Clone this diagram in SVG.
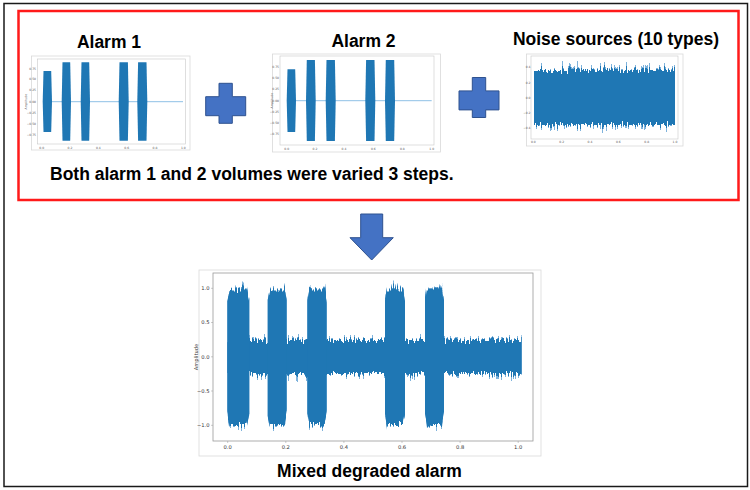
<svg xmlns="http://www.w3.org/2000/svg" width="750" height="490" viewBox="0 0 750 490">
<style>
.title{font-family:"Liberation Sans",Arial,sans-serif;font-weight:bold;font-size:17.5px;fill:#000}
.tk{font-family:"DejaVu Sans","Liberation Sans",sans-serif;font-size:3px;fill:#555}
.tkb{font-family:"DejaVu Sans","Liberation Sans",sans-serif;font-size:5.2px;fill:#333}
.sig{fill:#1f77b4}
.sigl{fill:#7fb3dc}
.fig{fill:#fff;stroke:#d9d9d9;stroke-width:0.8}
.ax{fill:none;stroke:#c8c8c8;stroke-width:0.6}
.axb{fill:none;stroke:#9a9a9a;stroke-width:0.8}
.tick{stroke:#999;stroke-width:0.5}
.blue{fill:#4472c4;stroke:#2f528f;stroke-width:1}
</style>
<defs>
<filter id="jagA" x="-3%" y="-15%" width="106%" height="130%" color-interpolation-filters="sRGB">
  <feTurbulence type="fractalNoise" baseFrequency="0.75 0.03" numOctaves="2" seed="7" result="n"/>
  <feColorMatrix in="n" type="matrix" values="1 0 0 0 0  0 0 0 0 0.5  0 0 0 0 0  0 0 0 0 1" result="m"/>
  <feDisplacementMap in="SourceGraphic" in2="m" scale="14" xChannelSelector="G" yChannelSelector="R"/>
</filter>
<filter id="jagB" x="-3%" y="-15%" width="106%" height="130%" color-interpolation-filters="sRGB">
  <feTurbulence type="fractalNoise" baseFrequency="0.75 0.03" numOctaves="2" seed="7" result="n"/>
  <feColorMatrix in="n" type="matrix" values="1 0 0 0 0  0 0 0 0 0.5  0 0 0 0 0  0 0 0 0 1" result="m"/>
  <feDisplacementMap in="SourceGraphic" in2="m" scale="26" xChannelSelector="G" yChannelSelector="R"/>
</filter>
<filter id="jagN" x="-3%" y="-25%" width="106%" height="150%" color-interpolation-filters="sRGB">
  <feTurbulence type="fractalNoise" baseFrequency="0.8 0.04" numOctaves="2" seed="3" result="n"/>
  <feColorMatrix in="n" type="matrix" values="1 0 0 0 0  0 0 0 0 0.5  0 0 0 0 0  0 0 0 0 1" result="m"/>
  <feDisplacementMap in="SourceGraphic" in2="m" scale="16" xChannelSelector="G" yChannelSelector="R"/>
</filter>
<filter id="jagNL" x="-3%" y="-25%" width="106%" height="150%" color-interpolation-filters="sRGB">
  <feTurbulence type="fractalNoise" baseFrequency="0.8 0.04" numOctaves="2" seed="3" result="n"/>
  <feColorMatrix in="n" type="matrix" values="1 0 0 0 0  0 0 0 0 0.5  0 0 0 0 0  0 0 0 0 1" result="m"/>
  <feDisplacementMap in="SourceGraphic" in2="m" scale="30" xChannelSelector="G" yChannelSelector="R"/>
</filter>
<g id="mixshape">
  <rect x="227.5" y="340" width="294.2" height="34"/>
  <polygon points="227.3,302 229.5,288.5 246.5,288.5 249.3,300 249.3,413.5 246.5,425 229.5,425 227.3,411"/>
  <polygon points="267.7,300 269.7,288.5 284.7,288.5 286.7,300 286.7,413.5 284.7,425 269.7,425 267.7,413.5"/>
  <polygon points="307.3,300 309.3,288.5 324.7,288.5 326.7,300 326.7,413.5 324.7,425 309.3,425 307.3,413.5"/>
  <polygon points="385,300 387,288.5 403,288.5 405,300 405,413.5 403,425 387,425 385,413.5"/>
  <polygon points="425,300 427,288.5 442,288.5 444,300 444,413.5 442,425 427,425 425,413.5"/>
</g>
</defs>

<rect x="0" y="0" width="750" height="490" fill="#fff"/>
<rect id="outer" x="4" y="3.5" width="743.5" height="483" fill="none" stroke="#1a1a1a" stroke-width="1.5"/>
<rect id="inputs-box" x="18.5" y="11" width="720" height="189" fill="none" stroke="#ff1a1a" stroke-width="2.5"/>

<g id="alarm1">
  <text class="title" x="109" y="48" text-anchor="middle">Alarm 1</text>
  <rect class="fig" x="31.5" y="56" width="158.5" height="94"/>
  <rect class="ax" x="37.5" y="59" width="148" height="85"/>
  <line x1="52" y1="101.7" x2="183" y2="101.7" stroke="#8ec1e6" stroke-width="1"/>
  <polygon class="sig" points="43.5,71 51.2,71 52,101.7 51.2,132 43.5,132 42.7,101.7"/>
  <polygon class="sig" points="62.5,62.3 70.2,62.3 71,101.7 70.2,140.7 62.5,140.7 61.7,101.7"/>
  <polygon class="sig" points="81.5,62.3 89.2,62.3 90,101.7 89.2,140.7 81.5,140.7 80.7,101.7"/>
  <polygon class="sig" points="119.5,62.3 127.9,62.3 128.7,101.7 127.9,140.7 119.5,140.7 118.7,101.7"/>
  <polygon class="sig" points="138.1,62.3 146.5,62.3 147.3,101.7 146.5,140.7 138.1,140.7 137.3,101.7"/>
  <g class="tk" text-anchor="middle">
    <text x="41.7" y="148.5">0.0</text><text x="70" y="148.5">0.2</text><text x="98.3" y="148.5">0.4</text>
    <text x="126.7" y="148.5">0.6</text><text x="155" y="148.5">0.8</text><text x="183.3" y="148.5">1.0</text>
  </g>
  <g class="tk" text-anchor="end">
    <text x="36" y="70">0.75</text><text x="36" y="80.3">0.50</text><text x="36" y="91">0.25</text>
    <text x="36" y="102.7">0.00</text><text x="36" y="113.7">−0.25</text><text x="36" y="125">−0.50</text><text x="36" y="136">−0.75</text>
  </g>
  <text class="tk" transform="translate(27 101.7) rotate(-90)" text-anchor="middle">Amplitude</text>
</g>

<g id="plus1">
  <polygon class="blue" points="219,83.3 232.3,83.3 232.3,96.7 245.7,96.7 245.7,115.7 232.3,115.7 232.3,123.3 219,123.3 219,115.7 205.7,115.7 205.7,96.7 219,96.7"/>
</g>

<g id="alarm2">
  <text class="title" x="363.5" y="46.7" text-anchor="middle">Alarm 2</text>
  <rect class="fig" x="272.5" y="54" width="168" height="98"/>
  <rect class="ax" x="280" y="56" width="154" height="89"/>
  <line x1="296" y1="100.7" x2="431.7" y2="100.7" stroke="#8ec1e6" stroke-width="1"/>
  <polygon class="sig" points="287.5,69.3 295.2,69.3 296,100.7 295.2,132 287.5,132 286.7,100.7"/>
  <polygon class="sig" points="306.8,60 314.9,60 315.7,100.7 314.9,141 306.8,141 306,100.7"/>
  <polygon class="sig" points="326.5,60 334.9,60 335.7,100.7 334.9,141 326.5,141 325.7,100.7"/>
  <polygon class="sig" points="366.1,60 374.5,60 375.3,100.7 374.5,141 366.1,141 365.3,100.7"/>
  <polygon class="sig" points="385.8,60 394.2,60 395,100.7 394.2,141 385.8,141 385,100.7"/>
  <g class="tk" text-anchor="middle">
    <text x="286.7" y="150">0.0</text><text x="315" y="150">0.2</text><text x="344" y="150">0.4</text>
    <text x="373.3" y="150">0.6</text><text x="402.3" y="150">0.8</text><text x="431.7" y="150">1.0</text>
  </g>
  <g class="tk" text-anchor="end">
    <text x="279" y="67.7">0.75</text><text x="279" y="78.7">0.50</text><text x="279" y="90">0.25</text>
    <text x="279" y="101.7">0.00</text><text x="279" y="112.7">−0.25</text><text x="279" y="124.3">−0.50</text><text x="279" y="135.3">−0.75</text>
  </g>
  <text class="tk" transform="translate(272.5 100.7) rotate(-90)" text-anchor="middle">Amplitude</text>
</g>

<g id="plus2">
  <polygon class="blue" points="472.3,77.5 485.7,77.5 485.7,90.9 499,90.9 499,109.9 485.7,109.9 485.7,117.5 472.3,117.5 472.3,109.9 459,109.9 459,90.9 472.3,90.9"/>
</g>

<g id="noise">
  <text class="title" x="616" y="45" text-anchor="middle">Noise sources (10 types)</text>
  <rect class="fig" x="526.5" y="54" width="156.5" height="92"/>
  <rect class="ax" x="531" y="56" width="147" height="83"/>
  <rect class="sigl" x="534" y="70" width="141" height="55" filter="url(#jagNL)"/>
  <rect class="sig" x="534" y="70" width="141" height="55" filter="url(#jagN)"/>
  <g class="tk" text-anchor="middle">
    <text x="533.3" y="143">0.0</text><text x="561.7" y="143">0.2</text><text x="590" y="143">0.4</text>
    <text x="618.3" y="143">0.6</text><text x="646.7" y="143">0.8</text><text x="675" y="143">1.0</text>
  </g>
  <g class="tk" text-anchor="end">
    <text x="530.5" y="68.3">0.4</text><text x="530.5" y="83.7">0.2</text><text x="530.5" y="99.3">0.0</text>
    <text x="530.5" y="114.3">−0.2</text><text x="530.5" y="129.3">−0.4</text>
  </g>
</g>

<g id="arrow-down">
  <polygon class="blue" points="360.7,214 382.7,214 382.7,237.7 393.3,237.7 371.7,260 350,237.7 360.7,237.7"/>
</g>

<g id="mixed">
  <rect class="fig" x="199" y="270" width="342" height="186"/>
  <rect class="axb" x="213" y="273" width="320" height="168"/>
  <use href="#mixshape" class="sigl" filter="url(#jagB)"/>
  <use href="#mixshape" class="sig" filter="url(#jagA)"/>
  <g class="tick">
    <line x1="211" y1="288.3" x2="213" y2="288.3"/><line x1="211" y1="322.5" x2="213" y2="322.5"/>
    <line x1="211" y1="356.8" x2="213" y2="356.8"/><line x1="211" y1="391" x2="213" y2="391"/>
    <line x1="211" y1="425.3" x2="213" y2="425.3"/>
    <line x1="227.7" y1="441" x2="227.7" y2="443"/><line x1="285.8" y1="441" x2="285.8" y2="443"/>
    <line x1="343.9" y1="441" x2="343.9" y2="443"/><line x1="402" y1="441" x2="402" y2="443"/>
    <line x1="460.1" y1="441" x2="460.1" y2="443"/><line x1="518.2" y1="441" x2="518.2" y2="443"/>
  </g>
  <g class="tkb" text-anchor="end">
    <text x="209.5" y="290.2">1.0</text><text x="209.5" y="324.4">0.5</text><text x="209.5" y="358.7">0.0</text>
    <text x="209.5" y="392.9">−0.5</text><text x="209.5" y="427.2">−1.0</text>
  </g>
  <g class="tkb" text-anchor="middle">
    <text x="227.7" y="449">0.0</text><text x="285.8" y="449">0.2</text><text x="343.9" y="449">0.4</text>
    <text x="402" y="449">0.6</text><text x="460.1" y="449">0.8</text><text x="518.2" y="449">1.0</text>
  </g>
  <text class="tkb" transform="translate(198 357) rotate(-90)" text-anchor="middle">Amplitude</text>
  <text class="title" x="369.5" y="477.3" text-anchor="middle">Mixed degraded alarm</text>
</g>

<g id="note">
  <text class="title" x="50" y="180">Both alarm 1 and 2 volumes were varied 3 steps.</text>
</g>
</svg>
